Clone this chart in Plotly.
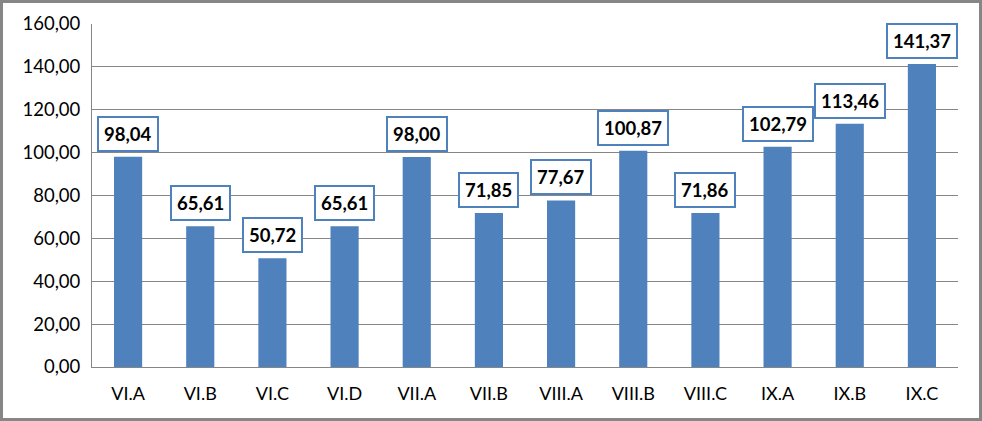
import plotly.graph_objects as go

categories = ["VI.A", "VI.B", "VI.C", "VI.D", "VII.A", "VII.B", "VIII.A", "VIII.B", "VIII.C", "IX.A", "IX.B", "IX.C"]
values = [98.04, 65.61, 50.72, 65.61, 98.00, 71.85, 77.67, 100.87, 71.86, 102.79, 113.46, 141.37]
tick_vals = [0, 20, 40, 60, 80, 100, 120, 140, 160]

def fmt(v):
    return f"{v:.2f}".replace(".", ",")

W, H = 982, 421
ml, mr, mt, mb = 92, 24, 24, 54
pw, ph = W - ml - mr, H - mt - mb

fig = go.Figure(go.Bar(x=categories, y=values, marker=dict(color="#4F81BD", line=dict(width=0)),
                       width=0.39))

for c, v in zip(categories, values):
    fig.add_annotation(x=c, y=v, text="<b>" + fmt(v) + "</b>", showarrow=False,
                       yanchor="bottom", yshift=5, bgcolor="white",
                       bordercolor="#4F81BD", borderwidth=2, borderpad=5,
                       font=dict(family="Lato, Open Sans, sans-serif", size=18.5, color="black"))

# outer chart border
fig.add_shape(type="rect", xref="paper", yref="paper",
              x0=(1.5 - ml) / pw, x1=(W - 1.5 - ml) / pw,
              y0=-(mb - 1.5) / ph, y1=1 + (mt - 1.5) / ph,
              line=dict(color="#868686", width=3), fillcolor="rgba(0,0,0,0)", layer="above")

fig.update_layout(
    width=W, height=H,
    margin=dict(l=ml, r=mr, t=mt, b=mb),
    paper_bgcolor="white", plot_bgcolor="white",
    showlegend=False,
    font=dict(family="Lato, Open Sans, sans-serif", size=18, color="black"),
    xaxis=dict(showgrid=False, showline=True, linecolor="#868686", linewidth=1,
               ticks="", tickfont=dict(size=18), ticklabelstandoff=10),
    yaxis=dict(range=[0, 160], tickvals=tick_vals, ticktext=[fmt(t) for t in tick_vals],
               showgrid=True, gridcolor="#868686", gridwidth=1, zeroline=False,
               showline=True, linecolor="#868686", linewidth=1, ticks="",
               tickfont=dict(size=18.5), ticklabelstandoff=7),
)

fig.write_html("out.html")
